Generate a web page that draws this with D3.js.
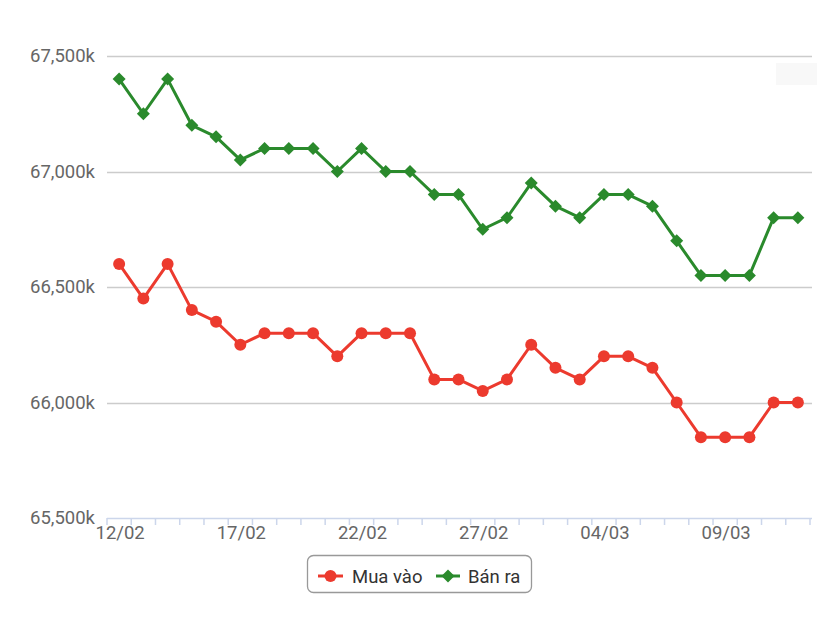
<!DOCTYPE html>
<html><head><meta charset="utf-8">
<script src="https://cdn.jsdelivr.net/npm/d3@7"></script>
<style>body{margin:0;background:#fff;}svg{font-family:Roboto,"Noto Sans",sans-serif;}</style>
</head><body>
<svg id="c" width="830" height="622"></svg>
<script>
const dates = ["12/02","13/02","14/02","15/02","16/02","17/02","18/02","19/02","20/02","21/02","22/02","23/02","24/02","25/02","26/02","27/02","28/02","01/03","02/03","03/03","04/03","05/03","06/03","07/03","08/03","09/03","10/03","11/03","12/03"];
const muaVao = [66600,66450,66600,66400,66350,66250,66300,66300,66300,66200,66300,66300,66300,66100,66100,66050,66100,66250,66150,66100,66200,66200,66150,66000,65850,65850,65850,66000,66000];
const banRa = [67400,67250,67400,67200,67150,67050,67100,67100,67100,67000,67100,67000,67000,66900,66900,66750,66800,66950,66850,66800,66900,66900,66850,66700,66550,66550,66550,66800,66800];
const yTicks = [65500,66000,66500,67000,67500];
const seriesNames = ["Mua vào","Bán ra"];

const red = "#ec3a2e", green = "#2a8a2c";
const svg = d3.select("#c");
const x = d3.scaleBand().domain(dates).range([107, 810]);
const y = d3.scaleLinear().domain([65500, 67500]).range([518, 56]);
const cx = d => x(d) + x.bandwidth()/2;

// faint box top-right
svg.append("rect").attr("x",776).attr("y",63).attr("width",41).attr("height",22).attr("fill","#f8f8f8");

// grid
svg.append("g").selectAll("line").data(yTicks.slice(1)).join("line")
  .attr("x1",107).attr("x2",812).attr("y1",d=>Math.round(y(d))+0.5).attr("y2",d=>Math.round(y(d))+0.5)
  .attr("stroke","#cccccc").attr("stroke-width",1.3);
// y labels
svg.append("g").selectAll("text").data(yTicks).join("text")
  .attr("x",95).attr("y",d=>y(d)).attr("dy","0.35em").attr("text-anchor","end")
  .attr("font-size",18.5).attr("fill","#666").text(d=>d3.format(",")(d)+"k");

// x axis
const xa = svg.append("g");
xa.append("line").attr("x1",107).attr("x2",812).attr("y1",518.5).attr("y2",518.5).attr("stroke","#ccd6eb").attr("stroke-width",1.5);
const bounds = dates.map(d=>x(d)).concat([810]);
xa.selectAll("line.t").data(bounds).join("line").attr("class","t")
  .attr("x1",d=>d).attr("x2",d=>d).attr("y1",518).attr("y2",525).attr("stroke","#ccd6eb").attr("stroke-width",1.5);
xa.selectAll("text").data(dates.filter((d,i)=>i%5===0)).join("text")
  .attr("x",d=>cx(d)+1).attr("y",539).attr("text-anchor","middle").attr("font-size",18.5).attr("fill","#666").text(d=>d);

// lines
const line = d3.line().x((v,i)=>cx(dates[i])).y(v=>y(v));
svg.append("path").datum(banRa).attr("d",line).attr("fill","none").attr("stroke",green).attr("stroke-width",3).attr("stroke-linejoin","round");
svg.append("path").datum(muaVao).attr("d",line).attr("fill","none").attr("stroke",red).attr("stroke-width",3).attr("stroke-linejoin","round");
const diamond = (px,py,r) => `M${px},${py-r}L${px+r},${py}L${px},${py+r}L${px-r},${py}Z`;
svg.append("g").selectAll("path").data(banRa).join("path")
  .attr("d",(v,i)=>diamond(cx(dates[i]),y(v),6.5)).attr("fill",green);
svg.append("g").selectAll("circle").data(muaVao).join("circle")
  .attr("cx",(v,i)=>cx(dates[i])).attr("cy",v=>y(v)).attr("r",6).attr("fill",red);

// legend
const lg = svg.append("g");
lg.append("rect").attr("x",307.5).attr("y",555.5).attr("width",224).attr("height",37).attr("rx",6)
  .attr("fill","#fff").attr("stroke","#999").attr("stroke-width",1.3);
lg.append("line").attr("x1",318).attr("x2",343).attr("y1",576).attr("y2",576).attr("stroke",red).attr("stroke-width",3);
lg.append("circle").attr("cx",330.5).attr("cy",576).attr("r",6).attr("fill",red);
lg.append("text").attr("x",352).attr("y",583).attr("font-size",18.5).attr("fill","#333").text(seriesNames[0]);
lg.append("line").attr("x1",436).attr("x2",460).attr("y1",576).attr("y2",576).attr("stroke",green).attr("stroke-width",3);
lg.append("path").attr("d",diamond(448,576,6.5)).attr("fill",green);
lg.append("text").attr("x",468).attr("y",583).attr("font-size",18.5).attr("fill","#333").text(seriesNames[1]);
</script>
</body></html>
